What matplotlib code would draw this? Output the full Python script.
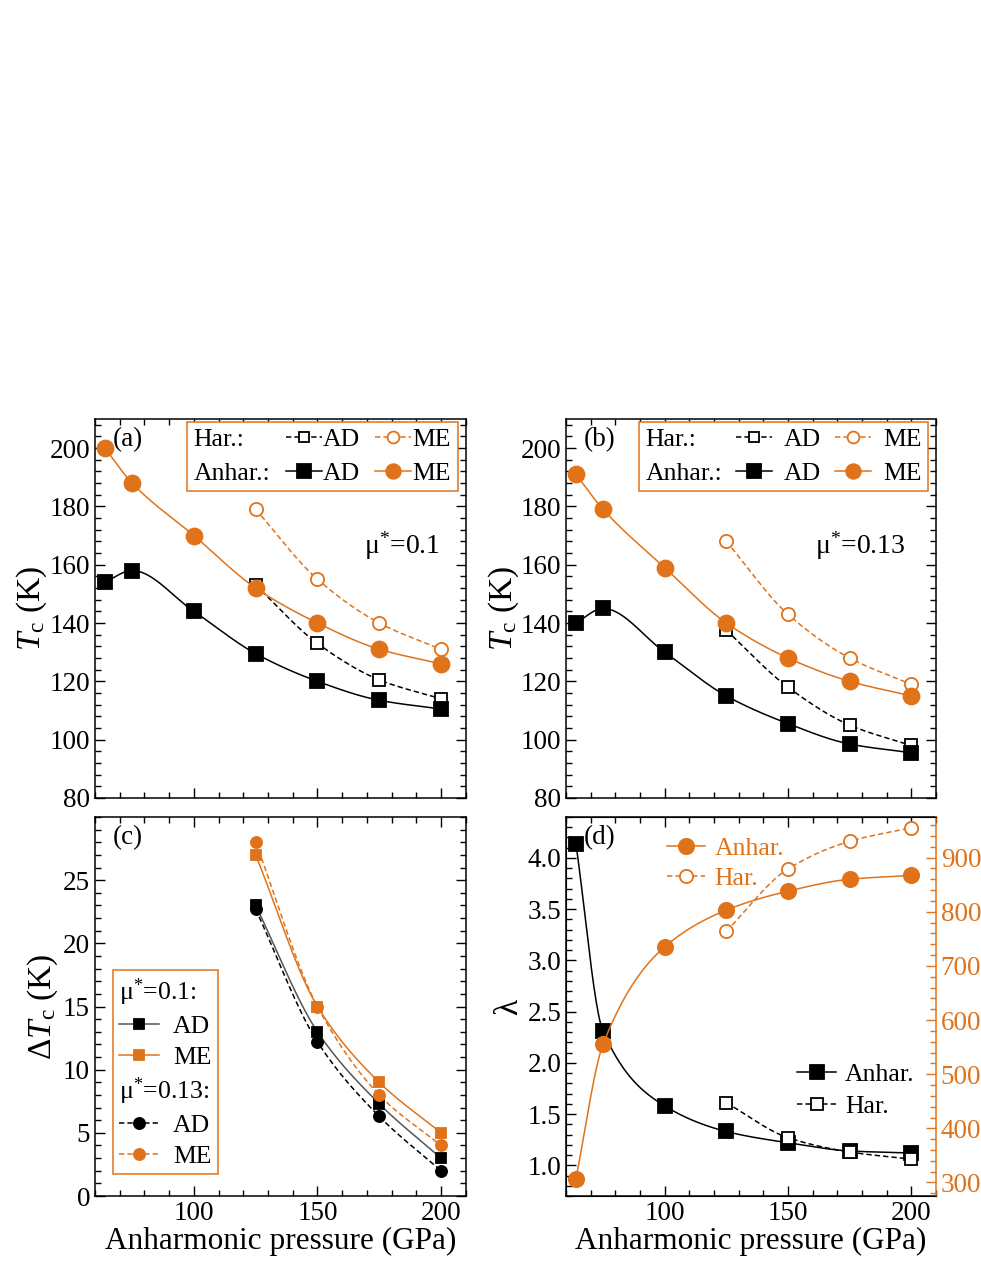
import numpy as np
import matplotlib
matplotlib.use("Agg")
import matplotlib.pyplot as plt
from matplotlib.lines import Line2D
from matplotlib.ticker import AutoMinorLocator

plt.rcParams["font.family"] = ["Liberation Serif", "DejaVu Serif"]
plt.rcParams["mathtext.fontset"] = "custom"
plt.rcParams["mathtext.rm"] = "Liberation Serif"
plt.rcParams["mathtext.it"] = "Liberation Serif:italic"

ORANGE = "#E0731A"

# pressures (GPa)
p_anh = [64, 75, 100, 125, 150, 175, 200]
p_har = [125, 150, 175, 200]

# (a) mu* = 0.1, Tc (K)
a_anh_ad = [154, 158, 144, 129.5, 120, 113.5, 110.5]
a_anh_me = [200, 188, 170, 152, 140, 131, 126]
a_har_ad = [153, 133, 120.5, 114]
a_har_me = [179, 155, 140, 131]

# (b) mu* = 0.13, Tc (K)
b_anh_ad = [140, 145, 130, 115, 105.5, 98.5, 95.5]
b_anh_me = [191, 179, 159, 140, 128, 120, 115]
b_har_ad = [137.5, 118, 105, 98]
b_har_me = [168, 143, 128, 119]

# (c) delta Tc (K)
c_01_ad = [23, 13, 7.3, 3]
c_01_me = [27, 15, 9, 5]
c_013_ad = [22.7, 12.2, 6.3, 2]
c_013_me = [28, 15, 8, 4]

# (d) lambda and omega_log
d_lam_anh = [4.14, 2.31, 1.58, 1.33, 1.22, 1.14, 1.12]
d_lam_har = [1.61, 1.27, 1.13, 1.06]
d_w_anh = [307, 555, 735, 803, 838, 860, 867]
d_w_har = [764, 879, 930, 955]


def smooth(x, y, n=300):
    # monotone cubic (pchip) just for drawing the connecting line
    x = np.asarray(x, float)
    y = np.asarray(y, float)
    h = np.diff(x)
    d = np.diff(y) / h
    m = np.zeros_like(y)
    m[0], m[-1] = d[0], d[-1]
    for k in range(1, len(x) - 1):
        if d[k - 1] * d[k] > 0:
            w1 = 2 * h[k] + h[k - 1]
            w2 = h[k] + 2 * h[k - 1]
            m[k] = (w1 + w2) / (w1 / d[k - 1] + w2 / d[k])
    xs = np.linspace(x[0], x[-1], n)
    i = np.clip(np.searchsorted(x, xs) - 1, 0, len(h) - 1)
    t = (xs - x[i]) / h[i]
    ys = ((2 * t**3 - 3 * t**2 + 1) * y[i] + (t**3 - 2 * t**2 + t) * h[i] * m[i]
          + (-2 * t**3 + 3 * t**2) * y[i + 1] + (t**3 - t**2) * h[i] * m[i + 1])
    return xs, ys


def curve(ax, x, y, color, ls, marker, ms, filled=True, lcolor=None, lms=None):
    xs, ys = smooth(x, y)
    ax.plot(xs, ys, color=lcolor or color, ls=ls, lw=1.1)
    ax.plot(x, y, ls="none", marker=marker, ms=ms, color=color,
            mfc=color if filled else "white", mec=color, mew=1.3)
    return Line2D([], [], color=lcolor or color, ls=ls, lw=1.1, marker=marker,
                  ms=lms or ms, mfc=color if filled else "white", mec=color, mew=1.3)


def squash_headers(leg, idx):
    # header rows ("Har.:" etc.) get no handle space
    items = [hp for col in leg._legend_handle_box.get_children()
             for hp in col.get_children()]
    for k in idx:
        items[k].get_children()[0].width = 0
        items[k].sep = 0


def style(ax, right=True):
    ax.tick_params(which="both", direction="in", top=True, right=right,
                   labelsize=19.5, width=1)
    ax.tick_params(which="major", length=7.5)
    ax.tick_params(which="minor", length=4)
    ax.xaxis.set_minor_locator(AutoMinorLocator(5))
    ax.yaxis.set_minor_locator(AutoMinorLocator(5))
    for s in ax.spines.values():
        s.set_linewidth(1.1)
    ax.set_xlim(60, 210)
    ax.set_xticks([100, 150, 200])


fig = plt.figure(figsize=(9.81, 12.69), dpi=100)
ax_a = fig.add_axes([0.0968, 0.3712, 0.378, 0.2987])
ax_b = fig.add_axes([0.577, 0.3712, 0.377, 0.2987])
ax_c = fig.add_axes([0.0968, 0.0575, 0.378, 0.2987])
ax_d = fig.add_axes([0.577, 0.0575, 0.377, 0.2987])

dash = (0, (3.5, 2))
hdr = Line2D([], [], ls="none")
LFS = 18.5

# (a) and (b)
for ax, anh_ad, anh_me, har_ad, har_me, tag, mu, mux, pad, cs in [
        (ax_a, a_anh_ad, a_anh_me, a_har_ad, a_har_me, "(a)", "μ$^{*}$=0.1", 0.725, 0.05, 0.6),
        (ax_b, b_anh_ad, b_anh_me, b_har_ad, b_har_me, "(b)", "μ$^{*}$=0.13", 0.672, 0.45, 0.55)]:
    h_had = curve(ax, p_har, har_ad, "black", dash, "s", 8.5, filled=False, lms=7.5)
    h_hme = curve(ax, p_har, har_me, ORANGE, dash, "o", 9.5, filled=False, lms=8.5)
    h_aad = curve(ax, p_anh, anh_ad, "black", "-", "s", 10.5, lms=9.5)
    h_ame = curve(ax, p_anh, anh_me, ORANGE, "-", "o", 11.5, lms=10.5)
    style(ax)
    ax.set_ylim(80, 210)
    ax.set_yticks(range(80, 201, 20))
    ax.tick_params(labelbottom=False)
    ax.set_ylabel("$T_\\mathrm{c}$ (K)", fontsize=24, labelpad=0)
    ax.text(0.048, 0.978, tag, transform=ax.transAxes, fontsize=19.5, va="top")
    ax.text(mux, 0.665, mu, transform=ax.transAxes, fontsize=20, va="center")
    leg = ax.legend([hdr, hdr, h_had, h_aad, h_hme, h_ame],
                    ["Har.:", "Anhar.:", "AD", "AD", "ME", "ME"],
                    ncol=3, loc="upper right", bbox_to_anchor=(0.978, 0.992),
                    borderaxespad=0, fontsize=LFS, handlelength=1.4,
                    handletextpad=pad, columnspacing=cs, labelspacing=0.4,
                    borderpad=0.25, fancybox=False, framealpha=1)
    leg.get_frame().set_edgecolor(ORANGE)
    leg.get_frame().set_linewidth(1.1)
    squash_headers(leg, [0, 1])

# (c)
h1 = curve(ax_c, p_har, c_01_ad, "black", "-", "s", 7.5, lcolor="#555555")
h2 = curve(ax_c, p_har, c_01_me, ORANGE, "-", "s", 7.5)
h3 = curve(ax_c, p_har, c_013_ad, "black", dash, "o", 8)
h4 = curve(ax_c, p_har, c_013_me, ORANGE, dash, "o", 8)
style(ax_c)
ax_c.set_ylim(0, 30)
ax_c.set_yticks(range(0, 26, 5))
ax_c.set_ylabel("Δ$T_\\mathrm{c}$ (K)", fontsize=24, labelpad=2)
ax_c.set_xlabel("Anharmonic pressure (GPa)", fontsize=22.5, labelpad=1)
ax_c.text(0.048, 0.978, "(c)", transform=ax_c.transAxes, fontsize=19.5, va="top")
leg = ax_c.legend([hdr, h1, h2, hdr, h3, h4],
                  ["μ$^{*}$=0.1:", "AD", "ME", "μ$^{*}$=0.13:", "AD", "ME"],
                  loc="lower left", bbox_to_anchor=(0.048, 0.058), borderaxespad=0,
                  fontsize=LFS, handlelength=1.55, handletextpad=0.55,
                  labelspacing=0.28, borderpad=0.25, fancybox=False, framealpha=1)
leg.get_frame().set_edgecolor(ORANGE)
leg.get_frame().set_linewidth(1.1)
squash_headers(leg, [0, 3])

# (d)
ax_w = ax_d.twinx()
l_anh = curve(ax_d, p_anh, d_lam_anh, "black", "-", "s", 10)
l_har = curve(ax_d, p_har, d_lam_har, "black", dash, "s", 8.5, filled=False)
w_anh = curve(ax_w, p_anh, d_w_anh, ORANGE, "-", "o", 11)
w_har = curve(ax_w, p_har, d_w_har, ORANGE, dash, "o", 9.5, filled=False)
style(ax_d, right=False)
ax_d.spines["right"].set_visible(False)
ax_d.set_ylim(0.7, 4.4)
ax_d.set_yticks([1.0, 1.5, 2.0, 2.5, 3.0, 3.5, 4.0])
ax_d.set_yticklabels(["1.0", "1.5", "2.0", "2.5", "3.0", "3.5", "4.0"])
ax_d.set_ylabel("λ", fontsize=24, labelpad=2)
ax_d.set_xlabel("Anharmonic pressure (GPa)", fontsize=22.5, labelpad=1)
ax_d.text(0.048, 0.978, "(d)", transform=ax_d.transAxes, fontsize=19.5, va="top")

ax_w.set_ylim(275, 975)
ax_w.set_yticks(range(300, 901, 100))
ax_w.yaxis.set_minor_locator(AutoMinorLocator(5))
ax_w.tick_params(which="both", direction="in", colors=ORANGE, labelsize=19.5, width=1)
ax_w.tick_params(which="major", length=7.5)
ax_w.tick_params(which="minor", length=4)
ax_w.spines["right"].set_color(ORANGE)
ax_w.spines["right"].set_linewidth(1.1)

leg1 = ax_d.legend([l_anh, l_har], ["Anhar.", "Har."], loc="lower right",
                   bbox_to_anchor=(0.97, 0.18), borderaxespad=0, fontsize=LFS,
                   handlelength=1.5, handletextpad=0.35, labelspacing=0.35,
                   frameon=False)
leg2 = ax_w.legend([w_anh, w_har], ["Anhar.", "Har."], loc="upper left",
                   bbox_to_anchor=(0.245, 0.975), borderaxespad=0, fontsize=LFS,
                   handlelength=1.5, handletextpad=0.35, labelspacing=0.3,
                   frameon=False, labelcolor=ORANGE)

fig.savefig("out.png", dpi=100)
